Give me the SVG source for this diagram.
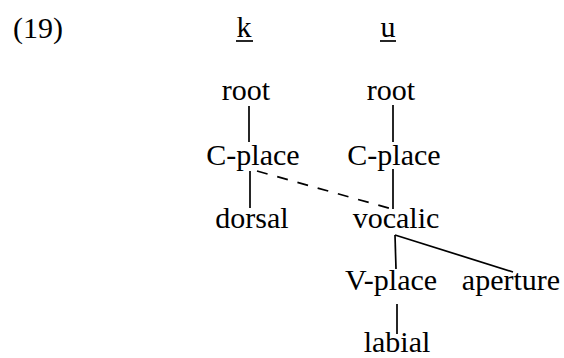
<svg xmlns="http://www.w3.org/2000/svg" width="564" height="358" viewBox="0 0 564 358">
<style>
text{font-family:"Liberation Serif","Times New Roman",serif;font-size:30px;fill:#000}
.m{text-anchor:middle}
line{stroke:#000;stroke-width:1.7}
.d{stroke-dasharray:11,10}
</style>
<rect width="564" height="358" fill="#fff"/>
<g id="label"><text x="13" y="38">(19)</text></g>
<g id="seg-k"><text class="m" x="244" y="37">k</text><line x1="236" y1="41" x2="253" y2="41"/></g>
<g id="seg-u"><text class="m" x="388" y="37">u</text><line x1="380" y1="41" x2="396" y2="41"/></g>
<g id="root-k"><text class="m" x="246" y="100">root</text></g>
<g id="root-u"><text class="m" x="391" y="100">root</text></g>
<g id="cplace-k"><text class="m" x="253" y="165">C-place</text></g>
<g id="cplace-u"><text class="m" x="394" y="165">C-place</text></g>
<g id="dorsal"><text class="m" x="252" y="228">dorsal</text></g>
<g id="vocalic"><text class="m" x="396" y="228">vocalic</text></g>
<g id="vplace"><text class="m" x="391" y="290">V-place</text></g>
<g id="aperture"><text class="m" x="511" y="290">aperture</text></g>
<g id="labial"><text class="m" x="397" y="352">labial</text></g>
<g id="connectors">
<line x1="249" y1="106" x2="249" y2="142"/>
<line x1="393" y1="105" x2="393" y2="142"/>
<line x1="250" y1="171" x2="250" y2="208"/>
<line x1="393" y1="169" x2="393" y2="209"/>
<line class="d" x1="257" y1="171" x2="392" y2="209"/>
<line x1="395" y1="235" x2="396" y2="269"/>
<line x1="395" y1="235" x2="513" y2="272"/>
<line x1="397" y1="304" x2="397" y2="334"/>
</g>
</svg>
